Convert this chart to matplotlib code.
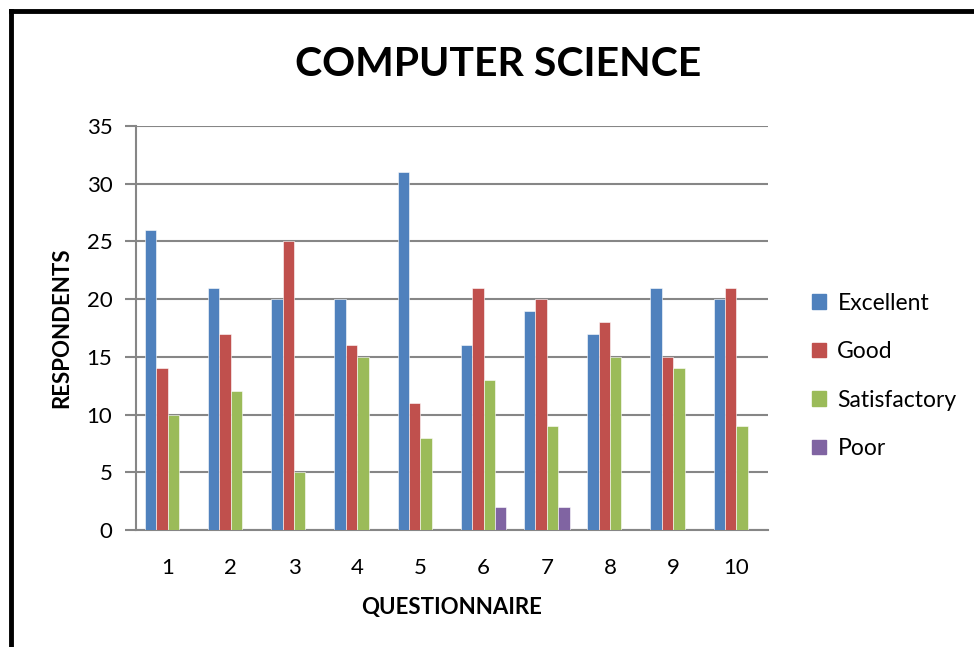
import matplotlib
matplotlib.use("Agg")
import matplotlib.pyplot as plt
import numpy as np
from matplotlib.lines import Line2D

categories = ["1", "2", "3", "4", "5", "6", "7", "8", "9", "10"]
series_names = ["Excellent", "Good", "Satisfactory", "Poor"]
excellent = [26, 21, 20, 20, 31, 16, 19, 17, 21, 20]
good = [14, 17, 25, 16, 11, 21, 20, 18, 15, 21]
satisfactory = [10, 12, 5, 15, 8, 13, 9, 15, 14, 9]
poor = [0, 0, 0, 0, 0, 2, 2, 0, 0, 0]
colors = ["#4F81BD", "#C0504D", "#9BBB59", "#8064A2"]

plt.rcParams['font.family'] = ['Lato', 'DejaVu Sans']

W, H = 974, 647
fig = plt.figure(figsize=(W / 100, H / 100), dpi=100)
ax = fig.add_axes([136 / W, 1 - 530 / H, (768 - 136) / W, (530 - 126) / H])

x = np.arange(1, len(categories) + 1)
w = 0.18
data = [excellent, good, satisfactory, poor]
for i, (name, vals, c) in enumerate(zip(series_names, data, colors)):
    ax.bar(x + (i - 1.5) * w, vals, width=w, color=c, label=name,
           edgecolor="white", linewidth=0.4, zorder=3)

ax.set_xlim(0.5, 10.5)
ax.set_ylim(0, 35)
ax.set_yticks(range(0, 36, 5))
ax.set_xticks(x)
ax.set_xticklabels(categories)
ax.yaxis.grid(True, color="#868686", linewidth=1.5, zorder=0)
ax.set_axisbelow(True)
for s in ["top", "right"]:
    ax.spines[s].set_visible(False)
ax.spines["left"].set_color("#868686")
ax.spines["left"].set_linewidth(1.5)
ax.spines["bottom"].set_color("#868686")
ax.spines["bottom"].set_linewidth(1.5)
ax.tick_params(axis="y", length=8, width=1.5, color="#868686", labelsize=16, pad=9)
ax.tick_params(axis="x", length=0, labelsize=16, pad=20)

ax.set_ylabel("RESPONDENTS", fontsize=16, fontweight="bold", labelpad=10)
ax.set_xlabel("QUESTIONNAIRE", fontsize=16, fontweight="bold", labelpad=14)

fig.text(498 / W, 1 - 65 / H, "COMPUTER SCIENCE", fontsize=29.5, fontweight="bold",
         ha="center", va="center")

handles = [plt.Rectangle((0, 0), 1, 1, color=c) for c in colors]
fig.legend(handles, series_names, loc="center left",
           bbox_to_anchor=(803 / W, 1 - 376 / H), frameon=False,
           fontsize=16.5, handlelength=0.6, handleheight=0.6,
           handletextpad=0.5, labelspacing=1.2, borderaxespad=0)

# outer border (top and left visible)
fig.add_artist(Line2D([11 / W, 1.0], [1 - 11 / H, 1 - 11 / H],
                      transform=fig.transFigure, color="black", linewidth=3.5))
fig.add_artist(Line2D([11 / W, 11 / W], [0.0, 1 - 11 / H],
                      transform=fig.transFigure, color="black", linewidth=3.5))

fig.savefig("out.png", dpi=100)
